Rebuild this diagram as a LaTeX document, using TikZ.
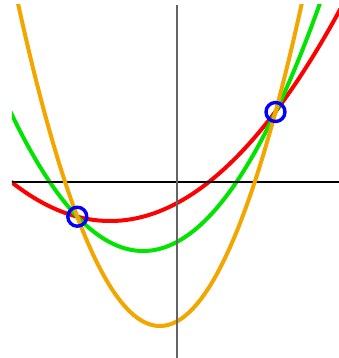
\documentclass[tikz,border=0pt]{standalone}
\usepackage{tikz}
\usepackage{xcolor}
\definecolor{curvered}{RGB}{255,0,0}
\definecolor{curvegreen}{RGB}{0,228,0}
\definecolor{curveorange}{RGB}{243,166,0}
\definecolor{axisgray}{RGB}{100,100,100}

\begin{document}
\begin{tikzpicture}[x=10pt, y=10pt, line join=round,
  curve/.style={line width=4pt, smooth, samples=120},
  meet/.style={circle, draw=blue, line width=3.4pt, minimum size=19pt, inner sep=0pt}]
\useasboundingbox (-17.65,-17.6) rectangle (16.25,18.2);
\coordinate (xl) at (-16.45,0);
\coordinate (xr) at (16.25,0);
\coordinate (yb) at (0,-17.6);
\coordinate (yt) at (0,17.7);

\begin{scope}
\clip (-16.45,-17.6) rectangle (16.25,17.7);
\draw[curve, curvered] plot[domain=-16.6:16.4] (\x, {-3.9+0.04*(\x+6.64)^2});
\draw[curve, curvegreen] plot[domain=-16.6:14.6] (\x, {-6.9+0.0792*(\x+3.34)^2});
\draw[line width=2pt, black] (xl) -- (xr);
\draw[curve, curveorange] plot[domain=-16.0:12.8] (\x, {-14.4+0.1602*(\x+1.66)^2});
\draw[line width=2pt, axisgray] (yb) -- (yt);
\end{scope}

\node[meet] (left) at (-9.92,-3.47) {};
\node[meet] (right) at (9.9,7.0) {};
\end{tikzpicture}
\end{document}
